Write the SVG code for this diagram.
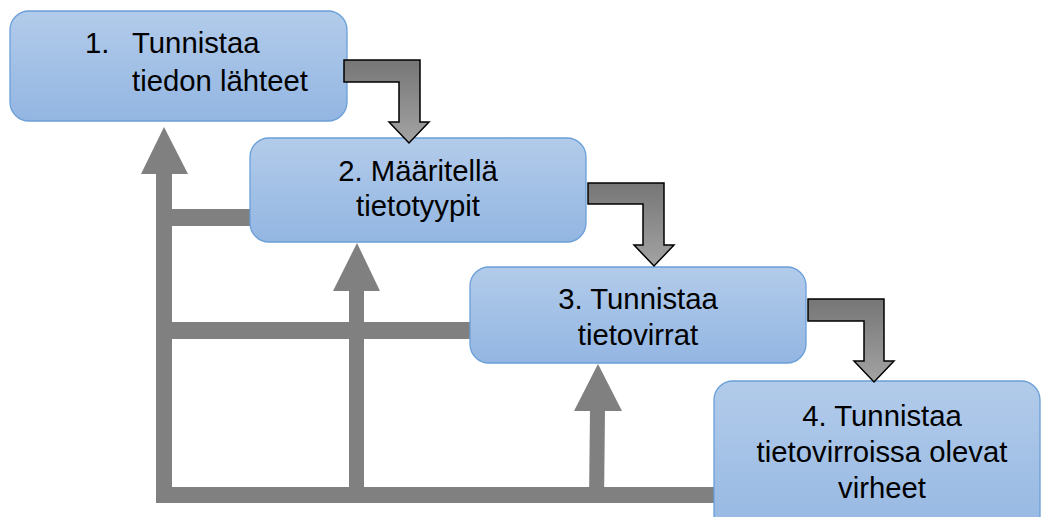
<svg xmlns="http://www.w3.org/2000/svg" width="1043" height="517" viewBox="0 0 1043 517">
  <defs>
    <linearGradient id="boxFill" x1="0" y1="0" x2="0" y2="1">
      <stop offset="0" stop-color="#b2cbea"/>
      <stop offset="1" stop-color="#93b6e2"/>
    </linearGradient>
    <linearGradient id="bentFill" x1="0" y1="0" x2="0" y2="1">
      <stop offset="0" stop-color="#767676"/>
      <stop offset="1" stop-color="#a3a3a3"/>
    </linearGradient>
    <style>
      .box { fill: url(#boxFill); stroke: #6a9fd8; stroke-width: 1.3; }
      .label { font-family: "Liberation Sans", Arial, sans-serif; font-size: 29.3px; fill: #000; }
      .mid { text-anchor: middle; }
      .feed { fill: #808080; }
      .bent { fill: url(#bentFill); stroke: #000; stroke-width: 1.5; stroke-linejoin: miter; }
    </style>
  </defs>

  <!-- feedback lines back to earlier steps -->
  <g id="connectors">
    <rect class="feed" x="156" y="172" width="16" height="331"/>
    <polygon class="feed" points="164,127 188,174 141,174"/>
    <rect class="feed" x="166" y="209" width="90" height="17"/>
    <rect class="feed" x="166" y="322" width="308" height="17"/>
    <rect class="feed" x="349" y="289" width="15" height="214"/>
    <polygon class="feed" points="357,243 380,291 333,291"/>
    <polygon class="feed" points="590,409 605,409 604,503 589,503"/>
    <polygon class="feed" points="598,364 622,411 574,411"/>
    <rect class="feed" x="156" y="487" width="566" height="16"/>
  </g>

  <g id="step1">
    <rect class="box" x="10" y="11" width="337" height="110" rx="19"/>
    <text class="label" x="85" y="53">1.</text>
    <text class="label" x="132" y="53">Tunnistaa</text>
    <text class="label" x="132" y="91">tiedon lähteet</text>
  </g>

  <g id="step2">
    <rect class="box" x="250" y="138" width="336" height="104" rx="19"/>
    <text class="label mid" x="418" y="181">2. Määritellä</text>
    <text class="label mid" x="418" y="216">tietotyypit</text>
  </g>

  <g id="step3">
    <rect class="box" x="470" y="267" width="336" height="96" rx="19"/>
    <text class="label mid" x="638" y="309">3. Tunnistaa</text>
    <text class="label mid" x="638" y="345">tietovirrat</text>
  </g>

  <g id="step4">
    <rect class="box" x="714" y="381" width="326" height="170" rx="19"/>
    <text class="label mid" x="882" y="426">4. Tunnistaa</text>
    <text class="label mid" x="882" y="462">tietovirroissa olevat</text>
    <text class="label mid" x="882" y="498">virheet</text>
  </g>

  <!-- bent arrows leading to the next step -->
  <g id="flow">
    <polygon class="bent" points="344,60 420,60 420,122 429,122 409,143 389,122 399,122 399,82 344,82"/>
    <polygon class="bent" points="588,183 664,183 664,245 674,245 654,266 634,245 643,245 643,204 588,204"/>
    <polygon class="bent" points="808,299 884,299 884,361 894,361 874,382 854,361 864,361 864,321 808,321"/>
  </g>
</svg>
